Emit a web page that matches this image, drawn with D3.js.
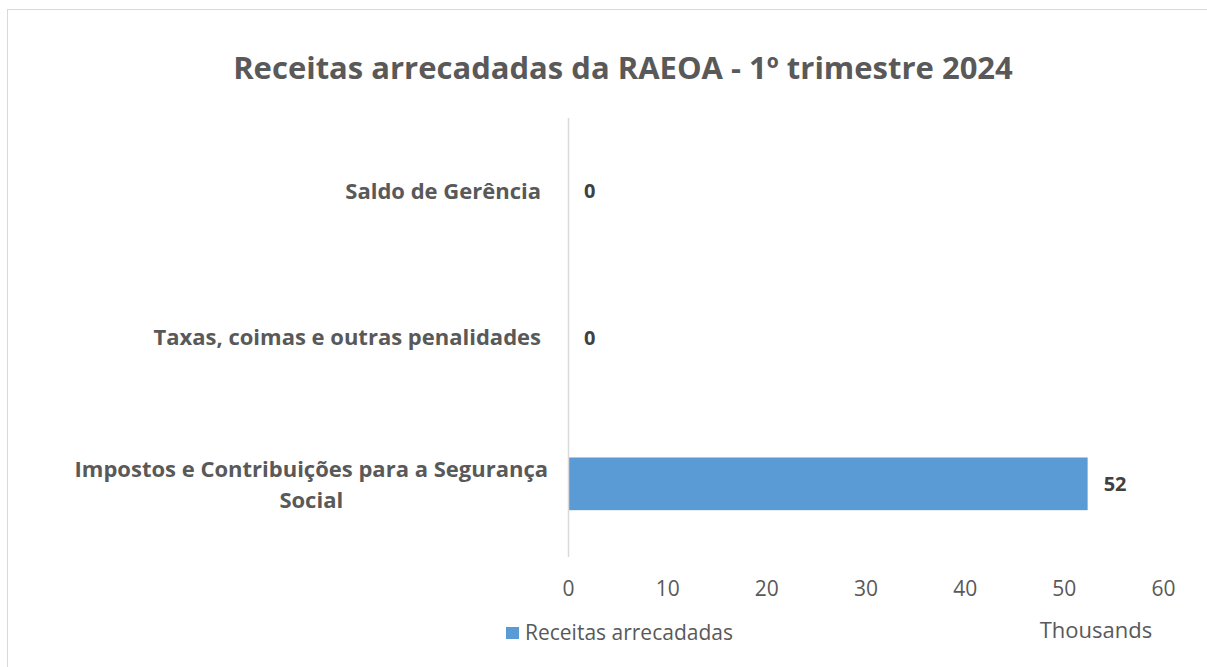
<!DOCTYPE html>
<html>
<head>
<meta charset="utf-8">
<script src="https://cdn.jsdelivr.net/npm/d3@7"></script>
<style>
  body { margin: 0; background: #fff; }
  svg { display: block; font-family: "Open Sans", "Noto Sans", sans-serif; }
</style>
</head>
<body>
<div id="chart"></div>
<script>
var title = 'Receitas arrecadadas da RAEOA - 1º trimestre 2024';
var categories = ['Saldo de Gerência', 'Taxas, coimas e outras penalidades', 'Impostos e Contribuições para a Segurança Social'];
var values = [0, 0, 52400];
var xTicks = [0, 10000, 20000, 30000, 40000, 50000, 60000];
var seriesName = 'Receitas arrecadadas';
var unitLabel = 'Thousands';

var width = 1207, height = 667;
var fontFamily = '"Open Sans", "Noto Sans", sans-serif';
var svg = d3.select('#chart').append('svg')
  .attr('width', width)
  .attr('height', height);

// chart area border (right and bottom fall outside the picture)
svg.append('rect')
  .attr('x', 7.5).attr('y', 9.5)
  .attr('width', 1210).attr('height', 670)
  .attr('fill', 'none')
  .attr('stroke', '#d9d9d9');

svg.append('text')
  .attr('x', 623).attr('y', 79)
  .attr('text-anchor', 'middle')
  .attr('font-size', 31)
  .attr('font-weight', 'bold')
  .attr('fill', '#595959')
  .text(title);

var x = d3.scaleLinear().domain([0, 60000]).range([568, 1163]);
var y = d3.scaleBand().domain(categories).range([118, 557]).paddingInner(0.64).paddingOuter(0.32);

// x axis labels (no line)
var xAxis = svg.append('g')
  .attr('transform', 'translate(0,' + 557 + ')')
  .call(d3.axisBottom(x).tickValues(xTicks).tickSize(0).tickPadding(24)
    .tickFormat(function(d) { return d3.format('d')(d / 1000); }));
xAxis.select('.domain').remove();
xAxis.selectAll('text')
  .attr('font-size', 21)
  .attr('font-family', fontFamily)
  .attr('fill', '#595959');

svg.append('text')
  .attr('x', 1096).attr('y', 638)
  .attr('text-anchor', 'middle')
  .attr('font-size', 22)
  .attr('fill', '#595959')
  .text(unitLabel);

// bars
svg.append('g').selectAll('rect')
  .data(categories)
  .enter().append('rect')
    .attr('x', x(0))
    .attr('y', function(d) { return y(d); })
    .attr('width', function(d, i) { return x(values[i]) - x(0); })
    .attr('height', y.bandwidth())
    .attr('fill', '#5b9bd5');

// vertical axis line
svg.append('line')
  .attr('x1', x(0) + 0.5).attr('x2', x(0) + 0.5)
  .attr('y1', 118).attr('y2', 557)
  .attr('stroke', '#d9d9d9')
  .attr('stroke-width', 1.5);

// data labels
svg.append('g').selectAll('text')
  .data(categories)
  .enter().append('text')
    .attr('x', function(d, i) { return x(values[i]) + 16; })
    .attr('y', function(d) { return y(d) + y.bandwidth() / 2; })
    .attr('dy', '0.35em')
    .attr('font-size', 20)
    .attr('font-weight', 'bold')
    .attr('fill', '#404040')
    .text(function(d, i) { return d3.format('.0f')(values[i] / 1000); });

// category labels, wrapped and centred when too long
var maxLabel = 490;
var labelSize = 22;
var catG = svg.append('g');
categories.forEach(function(c) {
  var t = catG.append('text')
    .attr('font-size', labelSize)
    .attr('font-weight', 'bold')
    .attr('fill', '#595959');
  var words = c.split(' '), lines = [], line = [];
  words.forEach(function(w) {
    line.push(w);
    t.text(line.join(' '));
    if (t.node().getComputedTextLength() > maxLabel && line.length > 1) {
      line.pop();
      lines.push(line.join(' '));
      line = [w];
    }
  });
  lines.push(line.join(' '));
  t.text(null);
  var cy = y(c) + y.bandwidth() / 2;
  var lh = 31;
  var right = 548;
  if (lines.length === 1) {
    t.attr('text-anchor', 'end')
      .append('tspan').attr('x', right - 7).attr('y', cy).attr('dy', '0.35em').text(lines[0]);
  } else {
    // centre the lines on the widest one
    var probe = catG.append('text').attr('font-size', labelSize).attr('font-weight', 'bold').text(lines[0]);
    var w0 = probe.node().getComputedTextLength();
    probe.remove();
    t.attr('text-anchor', 'middle');
    lines.forEach(function(l, k) {
      t.append('tspan')
        .attr('x', right - w0 / 2)
        .attr('y', cy + (k - (lines.length - 1) / 2) * lh + 1)
        .attr('dy', '0.35em')
        .text(l);
    });
  }
});

// legend
var legend = svg.append('g').attr('transform', 'translate(506,627)');
legend.append('rect').attr('width', 13).attr('height', 12).attr('fill', '#5b9bd5');
legend.append('text')
  .attr('x', 19).attr('y', 6).attr('dy', '0.35em')
  .attr('font-size', 21)
  .attr('fill', '#595959')
  .text(seriesName);
</script>
</body>
</html>
